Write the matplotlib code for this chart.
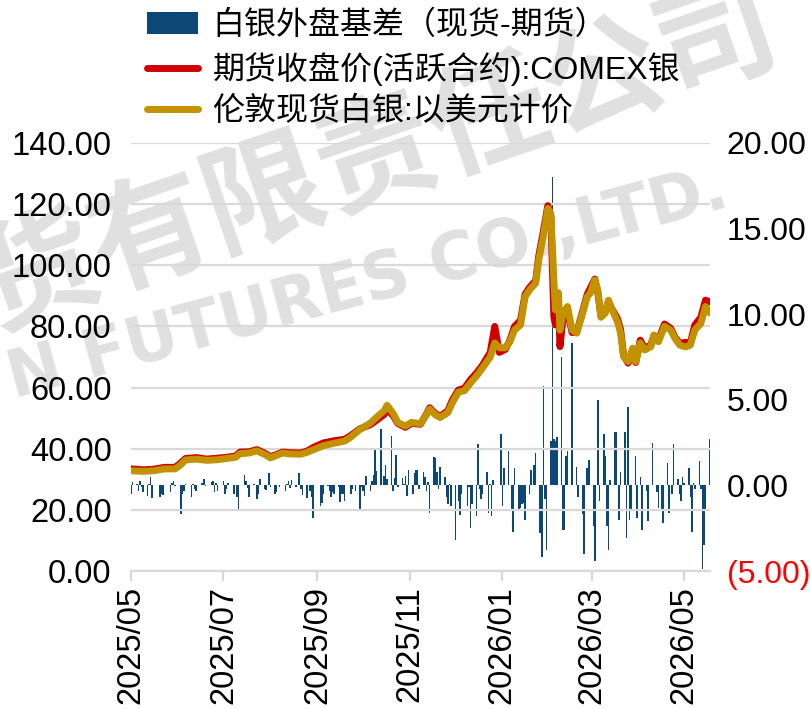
import pandas as pd
import matplotlib
matplotlib.use("Agg")
import matplotlib.pyplot as plt
import matplotlib.dates as mdates
from matplotlib.patches import Patch
from matplotlib.lines import Line2D
from matplotlib.ticker import FuncFormatter, MultipleLocator

plt.rcParams["font.family"] = ["Liberation Sans", "Noto Sans CJK SC", "DejaVu Sans"]

# ---------- data ----------
line_dates = [
    "2025-05-01", "2025-05-09", "2025-05-16", "2025-05-23", "2025-05-30", "2025-06-02",
    "2025-06-06", "2025-06-13", "2025-06-20", "2025-06-27", "2025-07-03", "2025-07-09",
    "2025-07-12", "2025-07-18", "2025-07-23", "2025-07-28", "2025-08-01", "2025-08-05",
    "2025-08-09", "2025-08-14", "2025-08-21", "2025-08-25", "2025-08-30", "2025-09-05",
    "2025-09-12", "2025-09-19", "2025-09-23", "2025-09-29", "2025-10-06", "2025-10-10",
    "2025-10-15", "2025-10-17", "2025-10-21", "2025-10-24", "2025-10-29", "2025-11-02",
    "2025-11-08", "2025-11-12", "2025-11-14", "2025-11-18", "2025-11-21", "2025-11-26",
    "2025-11-29", "2025-12-03", "2025-12-07", "2025-12-11", "2025-12-15", "2025-12-19",
    "2025-12-24", "2025-12-27", "2025-12-30", "2026-01-03", "2026-01-06", "2026-01-09",
    "2026-01-13", "2026-01-16", "2026-01-19", "2026-01-23", "2026-01-25", "2026-01-28",
    "2026-01-31", "2026-02-02", "2026-02-04", "2026-02-05", "2026-02-07", "2026-02-08",
    "2026-02-10", "2026-02-13", "2026-02-16", "2026-02-19", "2026-02-23", "2026-02-26",
    "2026-02-28", "2026-03-03", "2026-03-05", "2026-03-07", "2026-03-10", "2026-03-12",
    "2026-03-14", "2026-03-18", "2026-03-20", "2026-03-22", "2026-03-25", "2026-03-28",
    "2026-03-30", "2026-04-02", "2026-04-05", "2026-04-09", "2026-04-11", "2026-04-14",
    "2026-04-18", "2026-04-22", "2026-04-25", "2026-04-28", "2026-05-02", "2026-05-05",
    "2026-05-08", "2026-05-12", "2026-05-15", "2026-05-18",
]

# 伦敦现货白银
spot = [
    32.8, 32.6, 32.8, 33.4, 33.4, 34.4,
    36.3, 36.6, 36.2, 36.4, 36.8, 37.2,
    38.4, 38.6, 39.3, 38.2, 37.0, 37.8,
    38.6, 38.3, 38.2, 38.8, 39.8, 41.0,
    41.8, 42.5, 43.8, 46.3, 48.4, 50.3,
    52.4, 54.2, 51.5, 48.6, 47.4, 48.6,
    48.2, 51.2, 53.0, 51.0, 50.2, 51.8,
    55.0, 58.5, 59.0, 61.5, 63.8, 66.5,
    70.0, 74.6, 73.0, 73.0, 75.0, 78.8,
    80.5, 89.7, 92.0, 94.2, 101.7, 109.4,
    118.6, 117.0, 95.0, 85.4, 91.0, 78.8,
    84.4, 86.5, 78.8, 77.8, 84.4, 89.7,
    90.9, 95.2, 91.9, 83.0, 84.4, 88.6,
    86.0, 81.5, 77.8, 70.1, 68.5, 72.9,
    68.5, 74.6, 72.3, 73.4, 77.2, 75.0,
    80.0, 78.8, 76.1, 73.9, 73.3, 73.9,
    78.8, 81.0, 86.5, 84.4,
]

# COMEX银 期货收盘价
futures = [
    33.4, 33.1, 33.3, 33.9, 33.9, 35.0,
    36.8, 37.1, 36.6, 36.9, 37.2, 37.6,
    38.9, 39.0, 39.7, 38.6, 37.4, 38.1,
    38.9, 38.7, 38.6, 39.2, 40.6, 41.9,
    42.6, 43.1, 44.3, 46.5, 47.9, 49.3,
    51.2, 52.8, 50.8, 48.3, 47.0, 48.3,
    48.0, 51.4, 53.4, 51.4, 50.6, 52.4,
    55.9, 59.2, 59.8, 62.6, 64.8, 67.4,
    71.5, 80.0, 71.5, 72.5, 75.5, 80.0,
    82.0, 90.5, 92.8, 95.0, 103.0, 111.0,
    119.5, 116.0, 83.0, 80.5, 88.0, 73.4,
    82.5, 85.0, 78.0, 78.0, 85.0, 90.5,
    92.5, 95.5, 91.0, 83.5, 85.0, 88.0,
    86.0, 82.5, 79.0, 70.5, 68.0, 72.0,
    68.2, 75.5, 72.8, 74.0, 77.0, 75.6,
    80.8, 79.4, 76.4, 74.5, 74.8, 74.5,
    80.5, 83.0, 88.6, 88.0,
]

# 白银外盘基差（现货-期货），按交易日
basis = [
    -0.5, 0.2, 0.1, -0.3, 0.25, -0.1, -0.4, -0.6, 0.1, 0.5,
    -0.75, 0.05, 0, -0.7, -0.5, -0.55, 0, 0, -0.4, 0.15,
    0.25, -0.05, 0, -1.65, -0.5, -0.3, 0.1, 0, -0.7, 0.1,
    -0.2, -0.3, 0, 0.15, 0.35, -0.05, 0, 0.2, 0.25, -0.4,
    0.15, -0.3, 0.05, 0.25, -0.5, -0.2, 0.15, 0, -0.5, 0,
    -0.7, -1.5, 0, 0.6, 0.25, -0.15, -0.7, 0.1, 0.05, -0.8,
    -0.5, 0.4, -0.2, -0.25, 0.05, 0.7, -0.1, -0.5, -0.4, 0.05,
    -0.1, 0.05, -0.35, 0.1, 0.25, -0.15, 0.3, -0.1, 0, 0.7,
    -0.2, -0.55, -0.75, 0, -0.35, -0.7, -1.9, 0.05, 0, -1.2,
    -1.0, -0.5, -0.05, -0.35, -0.7, -0.4, -0.5, -0.1, -0.95, -0.5,
    -0.5, -0.9, 0, -0.5, -0.2, 0, -0.35, -1.35, -0.1, -0.35,
    -0.6, 0.55, -0.35, 0.25, 0.6, 2.1, 0.85, 3.3, 0, 0.55,
    1.2, 0.35, 2.9, -0.35, 0.45, 1.8, -0.1, 0.45, 0.1, 0.55,
    -0.6, 0.9, -0.5, 0.7, 0.9, 0.9, -0.2, 0.8, 0.5, -0.3,
    0.2, -1.6, 1.65, 1.6, 0.8, -0.2, 1.1, 0.5, -0.7, -1.1,
    0.1, -1.2, -3.2, 0, -0.9, -1.7, -0.5, 0.05, -1.2, -0.1,
    -2.5, -1.1, -1.8, 2.4, -0.2, -0.8, -0.5, 0.8, -1.6, 0.1,
    -1.8, 0.3, 0, 0, 3.0, -1.2, 1.0, 2.0, 0, -1.4,
    -2.7, 1.0, -1.5, -1.3, -1.1, -1.0, -2.0, -0.5, 0.9, 0,
    1.2, 1.9, -2.8, -4.2, 5.8, -0.8, -3.8, 2.6, 18.0, 2.7,
    2.6, 2.8, 7.5, -2.6, -2.6, 1.7, 2.0, 8.3, 0.05, 0,
    1.1, -0.7, -1.65, -4.0, 0, 1.0, 1.5, -2.4, -4.4, 0,
    5.0, -0.9, 3.0, 1.7, -2.4, -3.8, 0.3, 3.1, 3.1, 0,
    -2.0, 0.8, 3.1, -3.1, 4.6, -2.0, -1.5, 1.7, -1.9, 0,
    0.5, -2.6, -0.3, -2.1, 0, 0, 2.5, -0.4, -1.3, 0,
    -1.4, -2.2, 1.3, -1.6, 0, -0.5, 2.4, 0.35, -0.5, -0.9,
    0.5, 0.15, 1.0, -0.7, -2.7, 0.15, -0.2, 1.4, -0.2, -4.9,
    -3.5, -1.4, 2.7,
]

labels = ["白银外盘基差（现货-期货）", "期货收盘价(活跃合约):COMEX银", "伦敦现货白银:以美元计价"]

c_bar = "#0b4777"
c_fut = "#d00000"
c_spot = "#c39200"
c_grid = "#d9d9d9"
c_mark = "#e0e0e0"

line_x = pd.to_datetime(line_dates)
bar_x = pd.bdate_range("2025-05-01", periods=len(basis))

# ---------- figure ----------
fig = plt.figure(figsize=(8.12, 7.09), dpi=100)

# watermark
fig.text(378 / 812, 1 - 158 / 709, "货有限责任公司", fontsize=86, color=c_mark,
         family=["Noto Sans CJK SC"], weight="bold", rotation=19,
         ha="center", va="center", rotation_mode="anchor", zorder=-5)
fig.text(368 / 812, 1 - 285 / 709, "N FUTURES CO.,LTD.", fontsize=47, color=c_mark,
         family=["DejaVu Sans"], weight="bold", rotation=15,
         ha="center", va="center", rotation_mode="anchor", zorder=-5)

ax = fig.add_axes([131 / 812, 1 - 571 / 709, (710 - 131) / 812, (571 - 143) / 709])
ax2 = ax.twinx()
ax.set_zorder(ax2.get_zorder() + 1)
ax.patch.set_visible(False)
ax2.patch.set_visible(False)

ax2.bar(bar_x, basis, width=1.0, color=c_bar, linewidth=0)

ax.plot(line_x, futures, color=c_fut, lw=5, solid_joinstyle="round", solid_capstyle="round")
ax.plot(line_x, spot, color=c_spot, lw=5, solid_joinstyle="round", solid_capstyle="round")

ax.set_ylim(0, 140)
ax.yaxis.set_major_locator(MultipleLocator(20))
ax.yaxis.set_major_formatter(FuncFormatter(lambda v, p: f"{v:.2f}"))
ax2.set_ylim(-5, 20)
ax2.yaxis.set_major_locator(MultipleLocator(5))
ax2.yaxis.set_major_formatter(FuncFormatter(lambda v, p: f"({abs(v):.2f})" if v < 0 else f"{v:.2f}"))

ax.set_xlim(pd.Timestamp("2025-05-01"), pd.Timestamp("2026-05-18"))
ax.xaxis.set_major_locator(mdates.MonthLocator(bymonth=[1, 3, 5, 7, 9, 11]))
ax.xaxis.set_major_formatter(mdates.DateFormatter("%Y/%m"))

ax.grid(axis="y", color=c_grid, lw=1.6)
ax.set_axisbelow(True)

for a in (ax, ax2):
    for s in a.spines.values():
        s.set_visible(False)
ax.spines["bottom"].set_visible(True)
ax.spines["bottom"].set_color(c_grid)
ax.spines["bottom"].set_linewidth(1.6)

ax.tick_params(axis="y", length=0, pad=14, labelsize=23.5)
ax2.tick_params(axis="y", length=0, pad=12, labelsize=23)
ax.tick_params(axis="x", length=7, width=1.6, color=c_grid, pad=4, labelsize=23.5, labelrotation=90)
ax2.tick_params(axis="x", length=0)

for t, v in zip(ax2.get_yticklabels(), ax2.get_yticks()):
    if v < 0:
        t.set_color("#ff0000")

handles = [
    Patch(facecolor=c_bar, edgecolor="none"),
    Line2D([], [], color=c_fut, lw=5, solid_capstyle="round"),
    Line2D([], [], color=c_spot, lw=5, solid_capstyle="round"),
]
fig.legend(handles, labels, loc="upper left", bbox_to_anchor=(147 / 812, 1 - 11 / 709),
           frameon=False, fontsize=23, handlelength=1.6, handletextpad=0.45,
           labelspacing=0.33, borderpad=0, borderaxespad=0)

fig.savefig("out.png", dpi=100)
